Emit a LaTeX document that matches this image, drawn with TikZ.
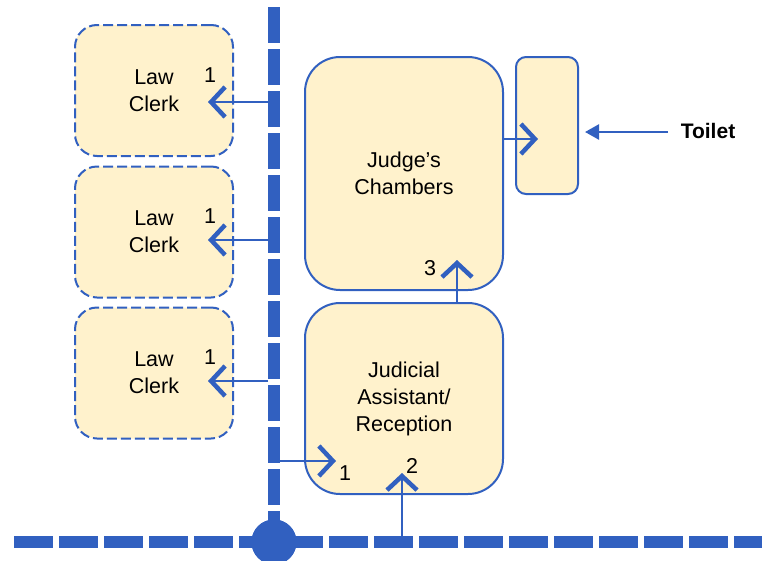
\documentclass[tikz,border=0pt]{standalone}
\usepackage{fontspec}
\setmainfont{Liberation Sans}
\usetikzlibrary{arrows.meta}
\definecolor{lineblue}{RGB}{49,96,192}
\definecolor{roomfill}{RGB}{255,242,204}
\begin{document}
\begin{tikzpicture}[x=1pt,y=-1pt,
  room/.style={draw=lineblue, line width=2pt, fill=roomfill, rounded corners=35pt,
    align=center, font=\fontsize{21.5}{27}\selectfont, inner sep=0pt},
  clerk/.style={room, dash pattern=on 10pt off 4pt, rounded corners=22pt,
    minimum width=158pt, minimum height=131pt},
  num/.style={font=\fontsize{21.5}{26}\selectfont, inner sep=0pt},
  door/.style={draw=lineblue, line width=2.5pt,
    -{Straight Barb[length=14pt,width=30pt,line width=4.5pt]}},
  corridor/.style={draw=lineblue, line width=12pt}
]
\useasboundingbox (0,0) rectangle (762,560);

% corridors
\coordinate (vtop) at (274,7);
\coordinate (hleft) at (14,542);
\coordinate (hright) at (762,542);
\node[circle, fill=lineblue, minimum size=45pt, inner sep=0pt] (hub) at (274,542) {};
\draw[corridor, dash pattern=on 36pt off 6pt] (vtop) -- (hub.center);
\draw[corridor, dash pattern=on 39pt off 6pt] (hleft) -- (hright);
\node[circle, fill=lineblue, minimum size=45pt, inner sep=0pt] at (hub) {};

% rooms
\node[clerk] (clerkA) at (154,90.5) {Law\\Clerk};
\node[clerk] (clerkB) at (154,232) {Law\\Clerk};
\node[clerk] (clerkC) at (154,373) {Law\\Clerk};
\node[room, minimum width=198pt, minimum height=233pt] (judge) at (404,173.5) {Judge’s\\Chambers};
\node[room, minimum width=198pt, minimum height=191pt] (assist) at (404,398.5) {Judicial\\Assistant/\\Reception};
\node[room, rounded corners=10pt, minimum width=62pt, minimum height=137pt] (toilet) at (547,125.5) {};

% numbers
\node[num] (nA) at (210,75) {1};
\node[num] (nB) at (210,216) {1};
\node[num] (nC) at (210,357) {1};
\node[num] (n3) at (430,268) {3};
\node[num] (n1) at (345,473) {1};
\node[num] (n2) at (412,466) {2};

% doors
\coordinate (sA) at (268,102); \coordinate (tA) at (208,102);
\coordinate (sB) at (268,240); \coordinate (tB) at (208,240);
\coordinate (sC) at (268,381); \coordinate (tC) at (208,381);
\coordinate (s1) at (280,461); \coordinate (t1) at (336,461);
\coordinate (s2) at (402,536); \coordinate (t2) at (402,473);
\coordinate (t3) at (457,260);
\coordinate (sT) at (503,139); \coordinate (tT) at (538,139);
\draw[door] (sA) -- (tA);
\draw[door] (sB) -- (tB);
\draw[door] (sC) -- (tC);
\draw[door] (s1) -- (t1);
\draw[door] (s2) -- (t2);
\draw[door] (assist.north -| t3) -- (t3);
\draw[door] (sT) -- (tT);

% toilet label
\node[font=\bfseries\fontsize{21}{25}\selectfont, inner sep=0pt] (toiletlabel) at (708,131) {Toilet};
\coordinate (tlA) at (668,132);
\coordinate (tlB) at (585,132);
\draw[draw=lineblue, line width=2.5pt, -{Triangle[length=14pt,width=15pt]}] (tlA) -- (tlB);
\end{tikzpicture}
\end{document}
